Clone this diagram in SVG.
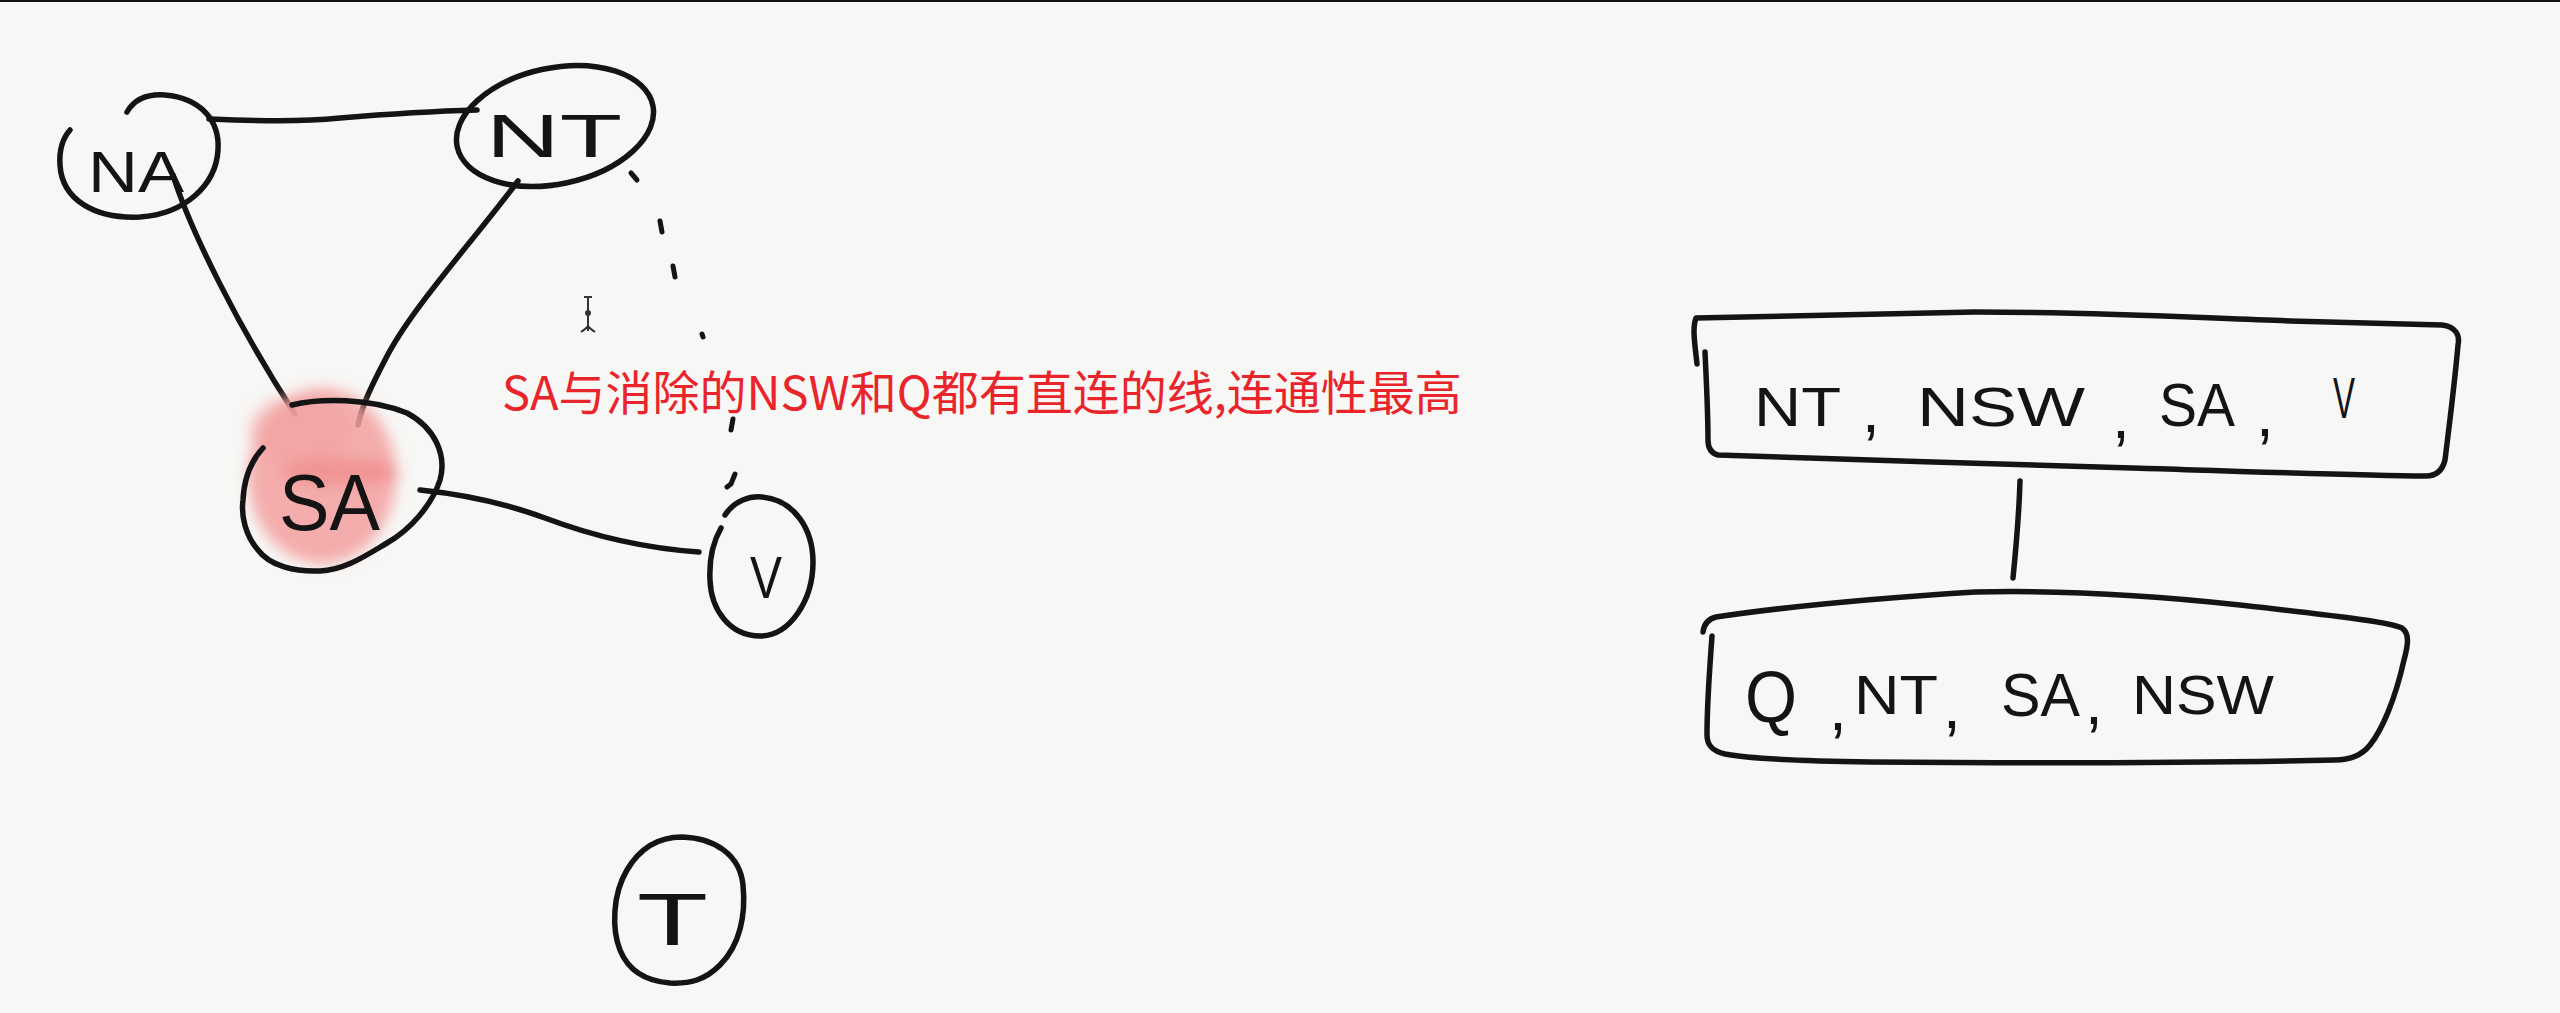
<svg xmlns="http://www.w3.org/2000/svg" width="2560" height="1013" viewBox="0 0 2560 1013">
  <style>
    .ink { fill: none; stroke: #141414; stroke-width: 5.5; stroke-linecap: round; stroke-linejoin: round; }
    .dash { fill: none; stroke: #141414; stroke-width: 5; stroke-linecap: round; }
    .hand { font-family: "Liberation Sans", "DejaVu Sans", sans-serif; fill: #141414; }
    .note { font-family: "Noto Sans CJK SC", "Noto Sans", sans-serif; fill: #e9252b; font-size: 47px; }
  </style>
  <defs>
    <filter id="blur" x="-30%" y="-30%" width="160%" height="160%">
      <feGaussianBlur stdDeviation="7"/>
    </filter>
  </defs>
  <rect x="0" y="0" width="2560" height="1013" fill="#f7f7f5"/>
  <rect x="0" y="0" width="2560" height="2" fill="#111"/>

  <!-- connectors -->
  <g id="connectors">
    <path class="ink" d="M209,119 C260,121 300,122 340,118 C400,113 440,111 477,110"/>
    <path class="ink" d="M173,175 C190,230 240,330 295,414"/>
    <path class="ink" d="M518,181 C470,245 410,310 385,360 C372,385 362,405 358,425"/>
    <path class="ink" d="M420,490 C470,495 510,505 545,518 C590,535 640,548 699,552"/>
    <g id="nt-v-dotted">
      <path class="dash" d="M631,173 L637,180"/>
      <path class="dash" d="M660,221 L662,232"/>
      <path class="dash" d="M673,266 L675,277"/>
      <path class="dash" d="M702,334 L703,337"/>
      <path class="dash" d="M733,419 L731,430"/>
      <path class="dash" d="M735,474 L731,484 L727,487"/>
    </g>
    <path class="ink" d="M2020,481 C2019,515 2016,548 2013,578"/>
  </g>

  <!-- text cursor artifact -->
  <g id="cursor" stroke="#333" stroke-width="2" fill="none">
    <path d="M584,297 L592,297 M588,297 L588,331 M581,332 C585,329 587,328 588,326 C589,328 591,329 595,332"/>
    <circle cx="588" cy="313" r="2" fill="#333"/>
  </g>

  <g id="node-NA">
    <path class="ink" d="M127,112 C135,98 150,94 165,95 C200,98 220,120 218,150 C216,185 185,214 140,217 C95,219 62,200 60,165 C59,150 63,138 70,130"/>
    <text class="hand" x="88" y="192" font-size="58" textLength="96" lengthAdjust="spacingAndGlyphs">NA</text>
  </g>

  <g id="node-NT">
    <ellipse class="ink" cx="555" cy="126" rx="100" ry="58" transform="rotate(-12 555 126)"/>
    <text class="hand" x="486" y="157" font-size="62" textLength="136" lengthAdjust="spacingAndGlyphs">NT</text>
  </g>

  <g id="node-SA">
    <g filter="url(#blur)">
      <ellipse cx="322" cy="476" rx="74" ry="88" fill="#f3a0a0" opacity="0.85"/>
      <ellipse cx="300" cy="430" rx="50" ry="34" fill="#f3a0a0" opacity="0.6"/>
      <ellipse cx="340" cy="472" rx="60" ry="14" fill="#ee8585" opacity="0.6"/>
    </g>
    <path class="ink" d="M292,405 C320,398 370,398 407,413 C435,428 447,455 440,480 C432,505 410,530 387,543 C365,556 345,570 320,571 C295,572 270,566 258,550 C245,535 241,515 243,500 C244,480 250,462 263,448"/>
    <text class="hand" x="279" y="530" font-size="80" textLength="101" lengthAdjust="spacingAndGlyphs">SA</text>
  </g>

  <g id="node-V">
    <path class="ink" d="M725,515 C735,500 750,496 762,497 C795,500 813,530 813,562 C813,600 790,636 760,636 C730,636 711,610 710,580 C709,560 713,542 721,528"/>
    <text class="hand" x="750" y="598" font-size="60" textLength="32" lengthAdjust="spacingAndGlyphs">V</text>
  </g>

  <g id="node-T">
    <path class="ink" d="M627,870 C640,848 658,837 682,837 C715,838 740,855 743,885 C746,915 740,945 720,965 C705,980 690,984 670,983 C645,981 628,970 620,950 C612,930 612,895 627,870 Z"/>
    <text class="hand" x="637" y="945" font-size="74" textLength="71" lengthAdjust="spacingAndGlyphs">T</text>
  </g>

  <g id="note">
    <text class="note" x="502" y="410">SA与消除的NSW和Q都有直连的线,连通性最高</text>
  </g>

  <g id="box-top">
    <path class="ink" d="M1697,364 C1695,345 1692,328 1696,318 C1760,316 1850,314 1975,312 C2100,312 2200,318 2290,321 C2360,323 2420,324 2442,325 C2456,327 2460,335 2458,345 C2455,380 2450,420 2445,460 C2442,472 2435,476 2426,476 C2350,475 2200,470 2132,468 C2000,464 1850,460 1718,455 C1710,453 1708,447 1708,440 C1708,410 1706,375 1705,352"/>
    <text class="hand" x="1754" y="426" font-size="56" textLength="87" lengthAdjust="spacingAndGlyphs">NT</text>
    <text class="hand" x="1862" y="432" font-size="64">,</text>
    <text class="hand" x="1917" y="426" font-size="56" textLength="168" lengthAdjust="spacingAndGlyphs">NSW</text>
    <text class="hand" x="2112" y="438" font-size="64">,</text>
    <text class="hand" x="2159" y="426" font-size="62" textLength="76" lengthAdjust="spacingAndGlyphs">SA</text>
    <text class="hand" x="2256" y="436" font-size="64">,</text>
    <text class="hand" x="2333" y="418" font-size="58" textLength="22" lengthAdjust="spacingAndGlyphs">V</text>
  </g>

  <g id="box-bottom">
    <path class="ink" d="M1703,632 C1704,624 1708,619 1716,617 C1790,606 1880,598 1975,592 C2060,590 2150,595 2240,605 C2330,615 2390,622 2402,628 C2410,634 2408,645 2404,660 C2395,700 2382,730 2370,745 C2362,755 2350,760 2335,760 C2200,763 2000,763 1870,762 C1800,761 1745,758 1725,754 C1712,751 1707,745 1707,735 C1707,700 1710,665 1712,636"/>
    <text class="hand" x="1745" y="722" font-size="72" textLength="52" lengthAdjust="spacingAndGlyphs">Q</text>
    <text class="hand" x="1829" y="730" font-size="64">,</text>
    <text class="hand" x="1854" y="714" font-size="56" textLength="84" lengthAdjust="spacingAndGlyphs">NT</text>
    <text class="hand" x="1943" y="728" font-size="64">,</text>
    <text class="hand" x="2001" y="716" font-size="62" textLength="79" lengthAdjust="spacingAndGlyphs">SA</text>
    <text class="hand" x="2085" y="724" font-size="64">,</text>
    <text class="hand" x="2132" y="714" font-size="56" textLength="142" lengthAdjust="spacingAndGlyphs">NSW</text>
  </g>
</svg>
